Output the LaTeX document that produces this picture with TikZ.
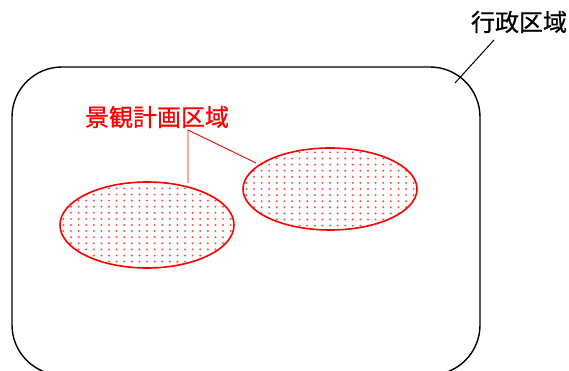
\documentclass[tikz,border=0pt]{standalone}
\usepackage{fontspec}
\newfontfamily\jp[FakeBold=0.7]{Noto Sans CJK JP}
\begin{document}
\begin{tikzpicture}[x=1pt,y=-1pt,
  lbl/.style={font=\jp\fontsize{24}{26}\selectfont, inner sep=0pt},
  area/.style={draw=red, line width=1.6pt},
  lead/.style={line width=1pt}]
\useasboundingbox (0,0) rectangle (569,371);
\begin{scope}
\clip (0,0) rectangle (569,371);
\draw[line width=1.4pt, rounded corners=50pt] (12,67) rectangle (480,375);
\end{scope}
\node[lbl] (gyo) at (519,22) {行政区域};
\coordinate (g1) at (494,40);
\coordinate (g2) at (455,83);
\draw[lead] (g1) -- (g2);

\node[lbl, text=red] (kei) at (157,117) {景観計画区域};
% ellipses with dots
\foreach \cx/\cy/\rx/\ry/\nm in {147/225/87/43/e1, 330/189/87/41/e2}{
  \begin{scope}
    \clip (\cx,\cy) ellipse [x radius=\rx, y radius=\ry];
    \foreach \i in {-12,...,12}{
      \foreach \j in {-8,...,8}{
        \fill[red!70] ({\cx+\i*7.6},{\cy+\j*6.1}) circle (1.1);
      }
    }
  \end{scope}
  \draw[area] (\cx,\cy) ellipse [x radius=\rx, y radius=\ry];
  \coordinate (\nm) at (\cx,\cy);
}
\coordinate (k0) at (188,130);
\coordinate (k1) at (188,183);
\coordinate (k2) at (256,163);
\draw[red, line width=0.9pt] (k1) -- (k0) -- (k2);
\end{tikzpicture}
\end{document}
